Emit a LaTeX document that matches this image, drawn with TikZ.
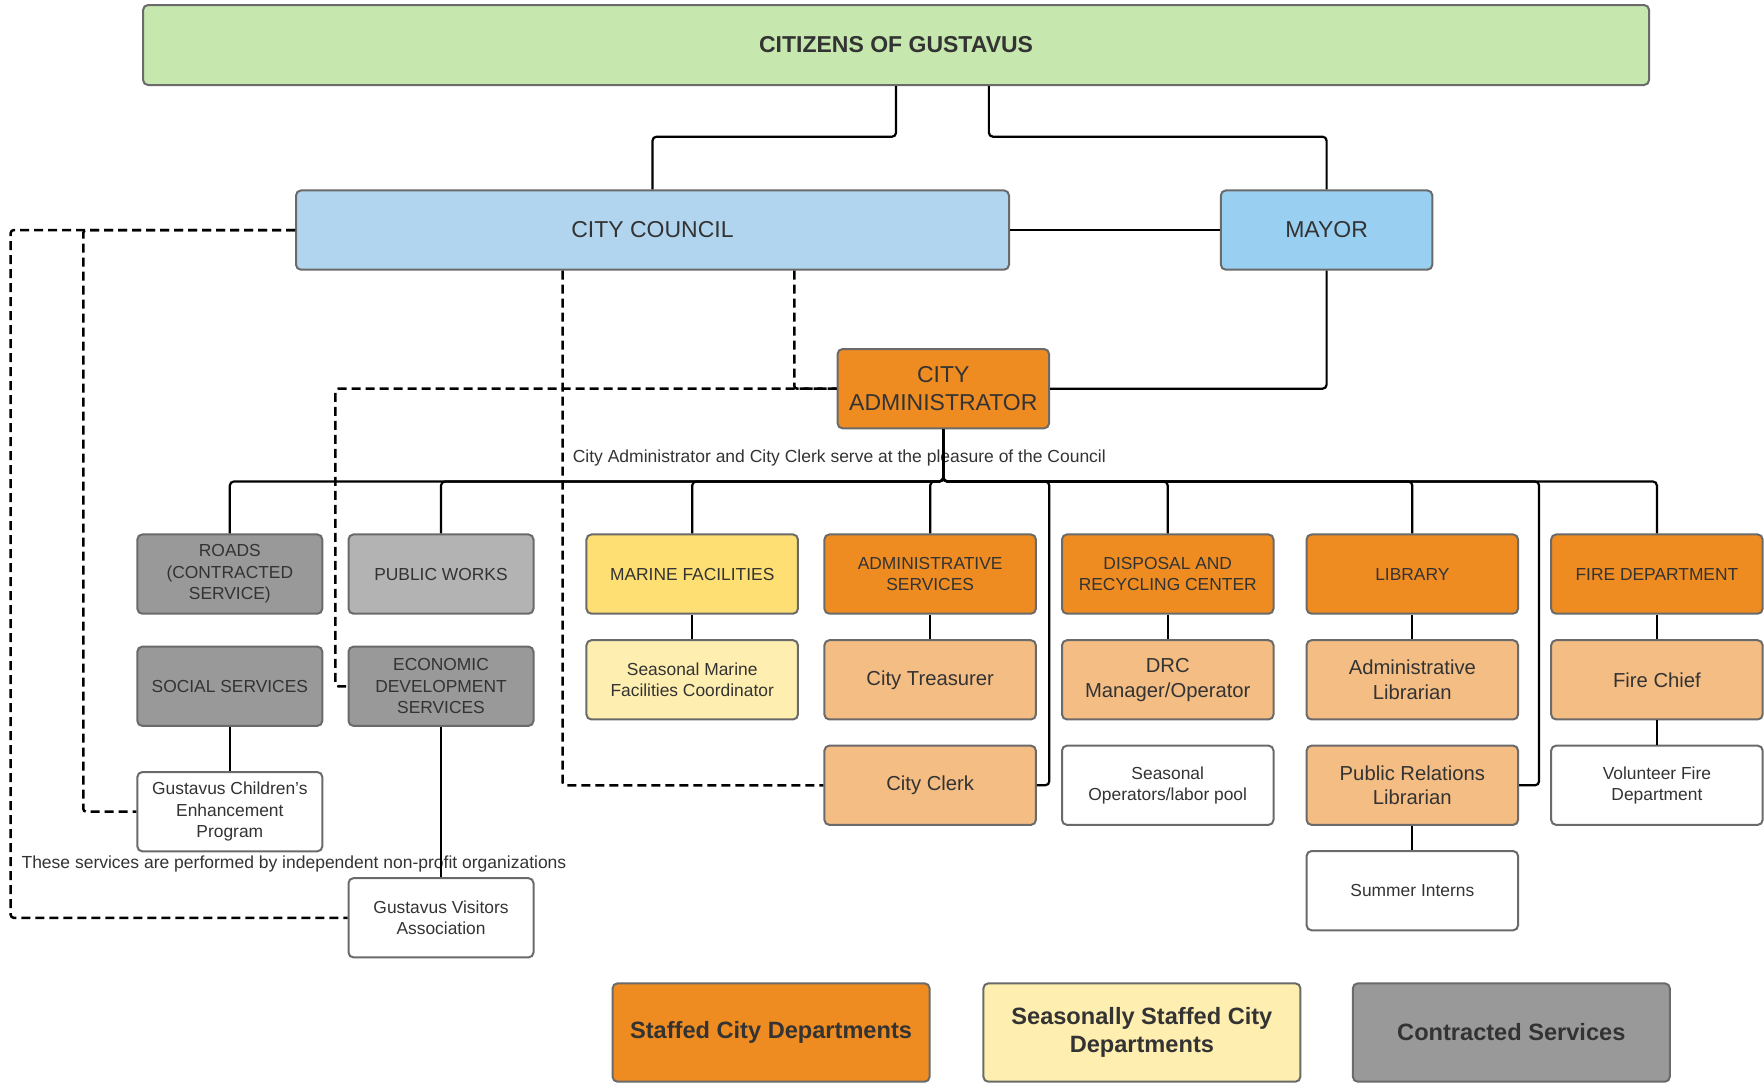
\documentclass[tikz,border=0pt]{standalone}
\usepackage{fontspec}
\setmainfont{Liberation Sans}
\usepackage{xcolor}

\definecolor{citgreen}{HTML}{C6E7AE}
\definecolor{councilblue}{HTML}{B1D5EE}
\definecolor{mayorblue}{HTML}{99D0F1}
\definecolor{staff}{HTML}{EE8C22}
\definecolor{stafflt}{HTML}{F4BD84}
\definecolor{season}{HTML}{FDDF73}
\definecolor{seasonlt}{HTML}{FEEEB0}
\definecolor{contract}{HTML}{999999}
\definecolor{pwgray}{HTML}{B3B3B3}
\definecolor{edge}{HTML}{6A6A6A}
\definecolor{ink}{HTML}{333333}

\newcommand{\bigtxt}{\fontsize{23}{28}\selectfont}
\newcommand{\legtxt}{\fontsize{23.6}{28}\selectfont}
\newcommand{\midtxt}{\fontsize{20.25}{24.75}\selectfont}
\newcommand{\smalltxt}{\fontsize{17.4}{21.4}\selectfont}
\newcommand{\notetxt}{\fontsize{17.5}{21}\selectfont}

\begin{document}
\begin{tikzpicture}[x=1.125pt, y=-1.125pt,
    box/.style={draw=edge, line width=2pt, rounded corners=5pt, align=center,
      text=ink, inner sep=2pt, minimum height=79.3pt},
    col/.style={box, minimum width=211.5pt},
    gcol/.style={box, minimum width=185pt},
    link/.style={line width=2.2pt, rounded corners=4pt},
    dlink/.style={line width=2.5pt, dash pattern=on 9pt off 5pt, rounded corners=3pt}]

    \useasboundingbox (0,0) rectangle (1568,963);

    % Citizens, council, mayor, administrator
    \node[box, fill=citgreen, minimum width=1506pt, minimum height=80pt, font=\bigtxt\bfseries] (cit) at (796.5,40) {CITIZENS OF GUSTAVUS};
    \node[box, fill=councilblue, minimum width=713pt, font=\bigtxt] (council) at (580,204.5) {CITY COUNCIL};
    \node[col, fill=mayorblue, font=\bigtxt] (mayor) at (1179.2,204.5) {MAYOR};
    \node[col, fill=staff, font=\bigtxt] (adm) at (838.5,345.5) {CITY\\ADMINISTRATOR};

    % Departments
    \node[gcol, fill=contract, font=\smalltxt] (roads) at (204.3,510.3) {ROADS\\(CONTRACTED\\SERVICE)};
    \node[gcol, fill=pwgray, font=\smalltxt] (pw) at (392,510.3) {PUBLIC WORKS};
    \node[col, fill=season, font=\smalltxt] (marine) at (615.3,510.3) {MARINE FACILITIES};
    \node[col, fill=staff, font=\smalltxt] (admsvc) at (826.8,510.3) {ADMINISTRATIVE\\SERVICES};
    \node[col, fill=staff, font=\smalltxt] (drc) at (1038,510.3) {DISPOSAL AND\\RECYCLING CENTER};
    \node[col, fill=staff, font=\smalltxt] (lib) at (1255.4,510.3) {LIBRARY};
    \node[col, fill=staff, font=\smalltxt] (fire) at (1472.8,510.3) {FIRE DEPARTMENT};

    % Second row
    \node[gcol, fill=contract, font=\smalltxt] (social) at (204.3,610) {SOCIAL SERVICES};
    \node[gcol, fill=contract, font=\smalltxt] (eds) at (392,610) {ECONOMIC\\DEVELOPMENT\\SERVICES};
    \node[col, fill=seasonlt, font=\smalltxt] (smfc) at (615.3,604.3) {Seasonal Marine\\Facilities Coordinator};
    \node[col, fill=stafflt, font=\midtxt] (treas) at (826.8,604.3) {City Treasurer};
    \node[col, fill=stafflt, font=\midtxt] (drcm) at (1038,604.3) {DRC\\Manager/Operator};
    \node[col, fill=stafflt, font=\midtxt] (alib) at (1255.4,604.3) {Administrative\\Librarian};
    \node[col, fill=stafflt, font=\midtxt] (chief) at (1472.8,604.3) {Fire Chief};

    % Third and fourth rows
    \node[gcol, fill=white, font=\smalltxt] (kids) at (204.3,721.5) {Gustavus Children's\\Enhancement\\Program};
    \node[col, fill=stafflt, font=\midtxt] (clerk) at (826.8,698) {City Clerk};
    \node[col, fill=white, font=\smalltxt] (ops) at (1038,698) {Seasonal\\Operators/labor pool};
    \node[col, fill=stafflt, font=\midtxt] (prl) at (1255.4,698) {Public Relations\\Librarian};
    \node[col, fill=white, font=\smalltxt] (vfd) at (1472.8,698) {Volunteer Fire\\Department};
    \node[gcol, fill=white, font=\smalltxt] (gva) at (392,815.8) {Gustavus Visitors\\Association};
    \node[col, fill=white, font=\smalltxt] (interns) at (1255.4,791.7) {Summer Interns};

    % Notes
    \node[anchor=west, inner sep=0pt, font=\notetxt, text=ink] (cnote) at (509,407) {City Administrator and City Clerk serve at the pleasure of the Council};
    \node[anchor=west, inner sep=0pt, font=\notetxt, text=ink] (npnote) at (19,768) {These services are performed by independent non-profit organizations};

    % Legend
    \node[box, fill=staff, minimum width=317pt, minimum height=98.4pt, font=\legtxt\bfseries] (lgstaff) at (685.4,917.8) {Staffed City Departments};
    \node[box, fill=seasonlt, minimum width=317pt, minimum height=98.4pt, font=\legtxt\bfseries] (lgseason) at (1015,917.8) {Seasonally Staffed City\\Departments};
    \node[box, fill=contract, minimum width=317pt, minimum height=98.4pt, font=\legtxt\bfseries] (lgcontract) at (1343.4,917.8) {Contracted Services};

    % Helper points
    \coordinate (split) at (0,121.5);
    \coordinate (bus) at (838.5,428);
    \coordinate (outer) at (9.5,0);
    \coordinate (inner) at (74,0);
    \coordinate (edsx) at (298,0);
    \coordinate (cit2) at ([xshift=92.8pt]cit.south);
    \coordinate (cd1) at ([xshift=141.75pt]council.south);
    \coordinate (cd2) at ([xshift=-90pt]council.south);
    \coordinate (clx) at ([xshift=12.4pt]clerk.east);
    \coordinate (prx) at ([xshift=20pt]prl.east);

    % Solid lines
    \draw[link] (cit.south) -- (cit.south |- split) -| (council.north);
    \draw[link] (cit2) -- (cit2 |- split) -| (mayor.north);
    \draw[link] (council.east) -- (mayor.west);
    \draw[link] (mayor.south) |- (adm.east);
    \foreach \d in {roads,pw,marine,admsvc,drc,lib,fire}
        \draw[link] (adm.south) -- (adm.south |- bus) -| (\d.north);
    \draw[link] (adm.south) -- (adm.south |- bus) -| (clx) -- (clerk.east);
    \draw[link] (adm.south) -- (adm.south |- bus) -| (prx) -- (prl.east);
    \foreach \a/\b in {social/kids, eds/gva, marine/smfc, admsvc/treas, drc/drcm, lib/alib, prl/interns, fire/chief, chief/vfd}
        \draw[link] (\a.south) -- (\b.north);

    % Dashed lines
    \draw[dlink] (council.west) -| (outer |- gva.west) -- (gva.west);
    \draw[dlink] (council.west) -| (inner |- kids.west) -- (kids.west);
    \draw[dlink] (adm.west) -| (edsx |- eds.west) -- (eds.west);
    \draw[dlink] (cd1) |- (adm.west);
    \draw[dlink] (cd2) |- (clerk.west);
\end{tikzpicture}
\end{document}
